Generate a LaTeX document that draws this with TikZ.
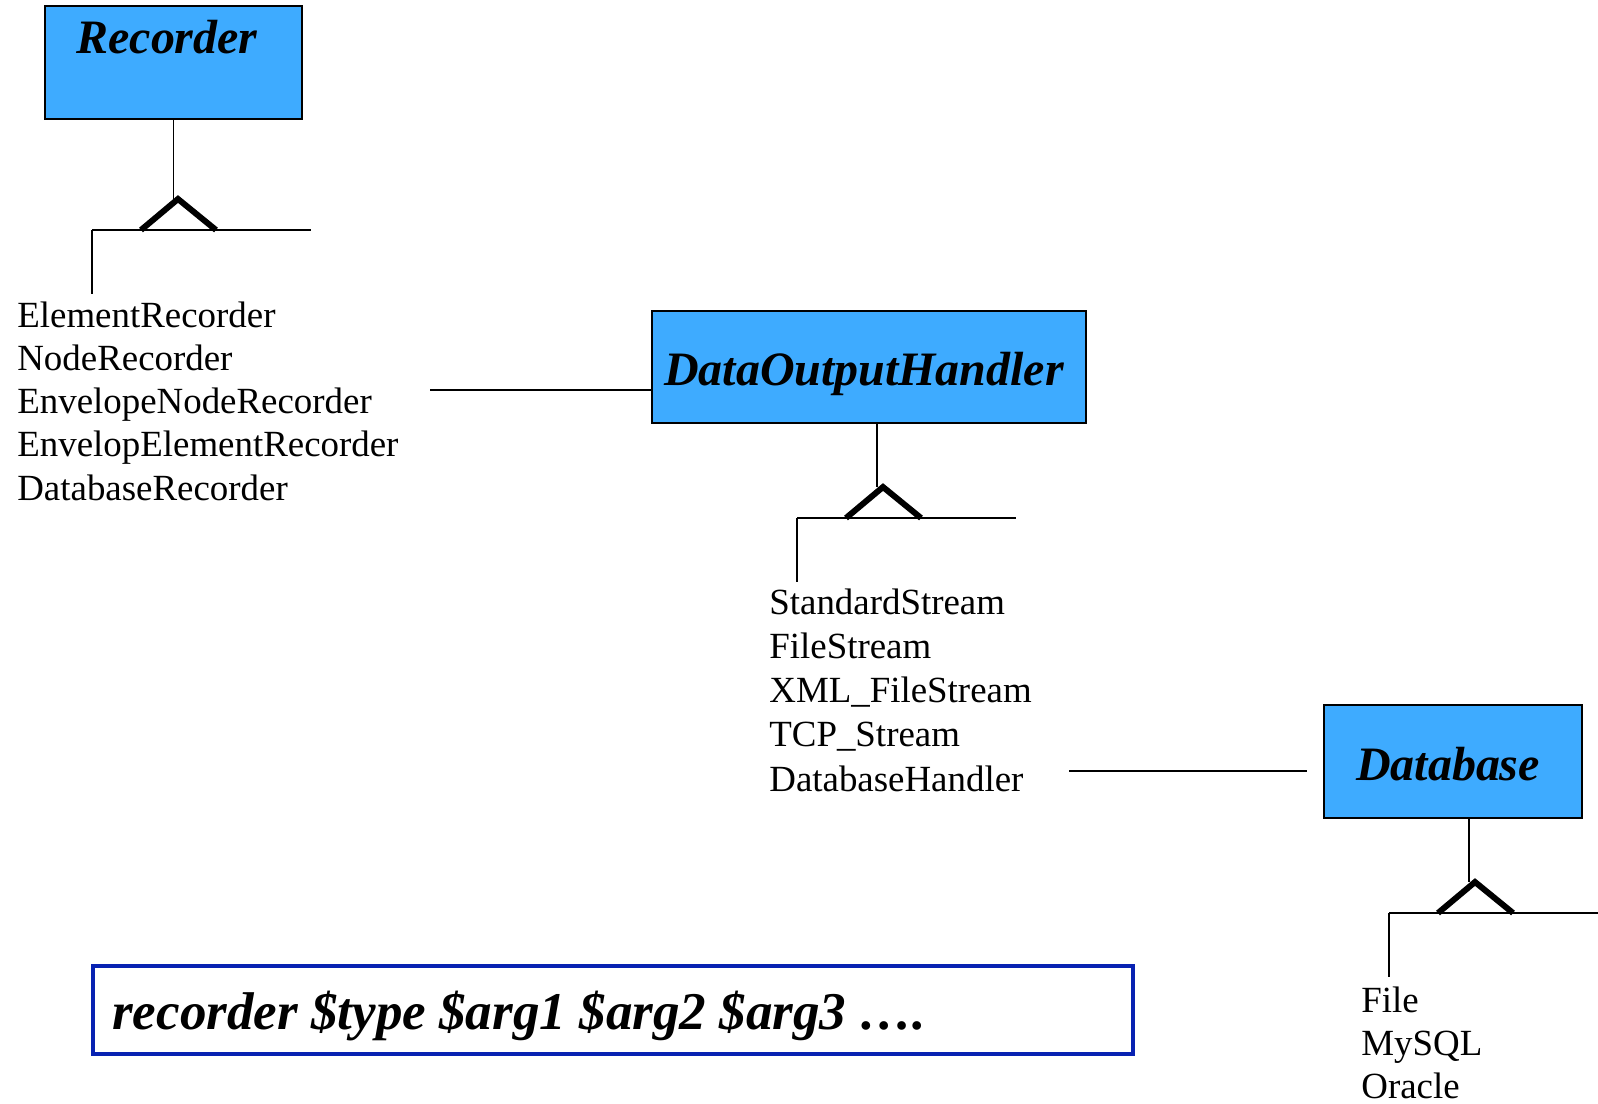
\documentclass[tikz,border=0pt]{standalone}
\usepackage{fontspec}
\setmainfont{Liberation Serif}
\usetikzlibrary{positioning, calc}
\definecolor{clsblue}{RGB}{62,171,255}
\definecolor{cmdblue}{RGB}{8,34,178}

\begin{document}
\begin{tikzpicture}[x=0.02cm, y=-0.02cm,
  cls/.style={draw, line width=1.3pt, fill=clsblue, inner sep=0pt},
  ttl/.style={font=\fontsize{27.3}{32}\selectfont\bfseries\itshape, inner sep=0pt, anchor=base},
  item/.style={font=\fontsize{21}{25}\selectfont, inner sep=0pt, anchor=base west},
  ln/.style={line width=1.1pt},
  inh/.style={line width=3.4pt},
  cmd/.style={draw=cmdblue, line width=2.3pt, inner sep=0pt, minimum width=20.8cm, minimum height=1.76cm}]
  \useasboundingbox (0,0) rectangle (1598,1103);
  % class boxes
  \node[cls, minimum width=5.14cm, minimum height=2.26cm] (rec) at (173.5,62.5) {};
  \node[ttl] (recT) at (167,53) {Recorder};
  \node[cls, minimum width=8.68cm, minimum height=2.24cm] (doh) at (869,367) {};
  \node[ttl] (dohT) at (864,385) {DataOutputHandler};
  \node[cls, minimum width=5.16cm, minimum height=2.26cm] (db) at (1453,761.5) {};
  \node[ttl] (dbT) at (1448,780) {Database};
  % subclass lists
  \foreach \t [count=\i] in {ElementRecorder, NodeRecorder, EnvelopeNodeRecorder,
      EnvelopElementRecorder, DatabaseRecorder}
    \node[item] (rl\i) at (17,{327+43.3*(\i-1)}) {\t};
  \foreach \t [count=\i] in {StandardStream, FileStream, XML\_FileStream,
      TCP\_Stream, DatabaseHandler}
    \node[item] (dl\i) at (769,{614+44.3*(\i-1)}) {\t};
  \foreach \t [count=\i] in {File, MySQL, Oracle}
    \node[item] (bl\i) at (1361,{1012+43*(\i-1)}) {\t};
  % inheritance marks
  \coordinate (recTip) at (178,199);
  \coordinate (dohTip) at (883,487);
  \coordinate (dbTip)  at (1475,882);
  \coordinate (recFoot) at (rec.south);
  \coordinate (dohFoot) at ($(doh.south)+(8,0)$);
  \coordinate (dbFoot)  at ($(db.south)+(16,0)$);
  \draw[ln] (recFoot) -- (recFoot |- recTip);
  \draw[ln] (dohFoot) -- (dohFoot |- dohTip);
  \draw[ln] (dbFoot) -- (dbFoot |- dbTip);
  \foreach \p in {recTip, dohTip, dbTip} {
    \draw[inh] ($(\p)+(-37,31)$) -- (\p) -- ($(\p)+(38,31)$);
    \draw[ln] ($(\p)+(-86,31)$) -- ++(219,0);
    \draw[ln] ($(\p)+(-86,31)$) -- ++(0,64);
  }
  % links between lists and classes
  \coordinate (recLink) at (430,390);
  \coordinate (dohLink) at (1069,771);
  \draw[ln] (recLink) -- (recLink -| doh.west);
  \draw[ln] (dohLink) -- ($(dohLink -| db.west)+(-16,0)$);
  % command
  \node[cmd] (cmd) at (613,1010) {};
  \node[anchor=base west, inner sep=0pt, font=\fontsize{30.2}{34}\selectfont\bfseries\itshape]
    (cmdT) at (112,1029) {recorder \$type \$arg1 \$arg2 \$arg3 ….};
\end{tikzpicture}
\end{document}
